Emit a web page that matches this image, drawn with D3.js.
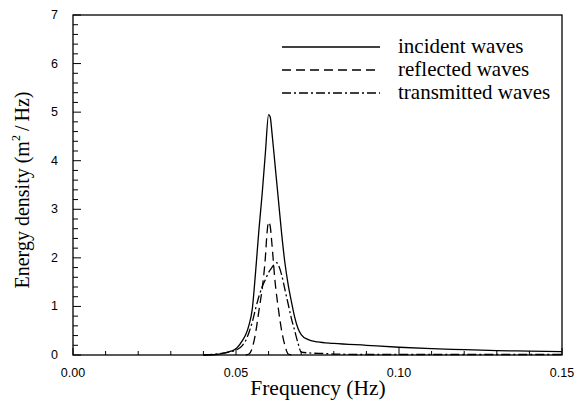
<!DOCTYPE html>
<html><head><meta charset="utf-8">
<script src="https://cdn.jsdelivr.net/npm/d3@7"></script>
<style>body{margin:0;background:#fff}svg{display:block}</style>
</head><body>
<svg id="c" width="575" height="403"></svg>
<script>
const freq_incident = [0.040,0.044,0.047,0.050,0.052,0.053,0.054,0.055,0.056,0.057,0.058,0.059,0.060,0.0605,0.061,0.062,0.063,0.064,0.065,0.066,0.067,0.068,0.069,0.070,0.072,0.075,0.080,0.090,0.100,0.110,0.120,0.130,0.140,0.150];
const val_incident  = [0.0,0.01,0.05,0.13,0.3,0.42,0.62,0.95,1.7,2.55,3.3,4.15,4.95,4.9,4.6,3.9,3.2,2.5,1.9,1.45,1.1,0.78,0.55,0.42,0.32,0.27,0.24,0.2,0.16,0.13,0.11,0.09,0.08,0.07];
const freq_reflected = [0.053,0.054,0.055,0.056,0.057,0.058,0.059,0.0595,0.060,0.0605,0.061,0.062,0.063,0.064,0.065,0.066,0.067];
const val_reflected  = [0.0,0.02,0.15,0.45,0.9,1.35,2.0,2.5,2.74,2.65,2.3,1.5,0.95,0.5,0.2,0.02,0.0];
const freq_transmitted = [0.040,0.045,0.050,0.052,0.053,0.054,0.055,0.056,0.057,0.058,0.059,0.060,0.061,0.062,0.0625,0.063,0.064,0.065,0.066,0.067,0.068,0.069,0.070,0.073,0.077,0.080,0.090,0.110,0.130,0.150];
const val_transmitted  = [0.0,0.03,0.1,0.2,0.3,0.47,0.68,0.95,1.2,1.4,1.55,1.7,1.8,1.88,1.9,1.85,1.65,1.35,1.05,0.75,0.5,0.25,0.06,0.04,0.03,0.02,0.01,0.01,0.01,0.01];
const xTicks = [0.00,0.05,0.10,0.15];
const yTicks = [0,1,2,3,4,5,6,7];
const legendLabels = ["incident waves","reflected waves","transmitted waves"];

const svg = d3.select("#c");
const L=73, R=562, T=15, B=355;
const x = d3.scaleLinear().domain([0,0.15]).range([L,R]);
const y = d3.scaleLinear().domain([0,7]).range([B,T]);

// frame
svg.append("rect").attr("x",L).attr("y",T).attr("width",R-L).attr("height",B-T)
  .attr("fill","none").attr("stroke","#000").attr("stroke-width",1.3);

// x axis ticks (inward)
const xMinor = d3.range(0,0.1501,0.01);
svg.append("g").selectAll("line").data(xMinor).join("line")
  .attr("x1",d=>x(d)).attr("x2",d=>x(d)).attr("y1",B)
  .attr("y2",(d,i)=> i%5===0 ? B-7 : B-4)
  .attr("stroke","#000").attr("stroke-width",1);
svg.append("g").selectAll("text").data(xTicks).join("text")
  .attr("x",d=>x(d)).attr("y",B+22).attr("text-anchor","middle")
  .attr("font-family","Liberation Sans, Arial, sans-serif").attr("font-size",12.5)
  .text(d=>d3.format(".2f")(d));

// y axis ticks (inward)
const yMinor = d3.range(0,7.001,0.2);
svg.append("g").selectAll("line").data(yMinor).join("line")
  .attr("y1",d=>y(d)).attr("y2",d=>y(d)).attr("x1",L)
  .attr("x2",(d,i)=> i%5===0 ? L+8 : L+5)
  .attr("stroke","#000").attr("stroke-width",1);
svg.append("g").selectAll("text").data(yTicks).join("text")
  .attr("x",L-15).attr("y",d=>y(d)+4).attr("text-anchor","end")
  .attr("font-family","Liberation Sans, Arial, sans-serif").attr("font-size",12.5)
  .text(d=>d);

// axis titles
svg.append("text").attr("x",318).attr("y",395).attr("text-anchor","middle")
  .attr("font-family","Liberation Serif, Times New Roman, serif").attr("font-size",21.5)
  .text("Frequency (Hz)");
const yl = svg.append("text").attr("transform","translate(29,190) rotate(-90)")
  .attr("text-anchor","middle")
  .attr("font-family","Liberation Serif, Times New Roman, serif").attr("font-size",20);
yl.append("tspan").text("Energy density (m");
yl.append("tspan").attr("font-size",12).attr("dy",-9).text("2");
yl.append("tspan").attr("dy",9).text("\u2009/\u2009Hz)");

// curves
const line = d3.line().x(d=>x(d[0])).y(d=>y(d[1])).curve(d3.curveMonotoneX);
const series = [
  {f:freq_incident, v:val_incident, dash:null},
  {f:freq_reflected, v:val_reflected, dash:"9,5"},
  {f:freq_transmitted, v:val_transmitted, dash:"9,3,2,3"}
];
series.forEach(s=>{
  svg.append("path").datum(s.f.map((f,i)=>[f,s.v[i]]))
    .attr("d",line).attr("fill","none").attr("stroke","#000")
    .attr("stroke-width",1.3).attr("stroke-dasharray",s.dash);
});

// legend
const lg = svg.append("g");
series.forEach((s,i)=>{
  const yy = 47 + i*23;
  lg.append("line").attr("x1",282).attr("x2",380).attr("y1",yy).attr("y2",yy)
    .attr("stroke","#000").attr("stroke-width",1.3).attr("stroke-dasharray",s.dash);
  lg.append("text").attr("x",398).attr("y",yy+6)
    .attr("font-family","Liberation Serif, Times New Roman, serif").attr("font-size",21)
    .text(legendLabels[i]);
});
</script>
</body></html>
